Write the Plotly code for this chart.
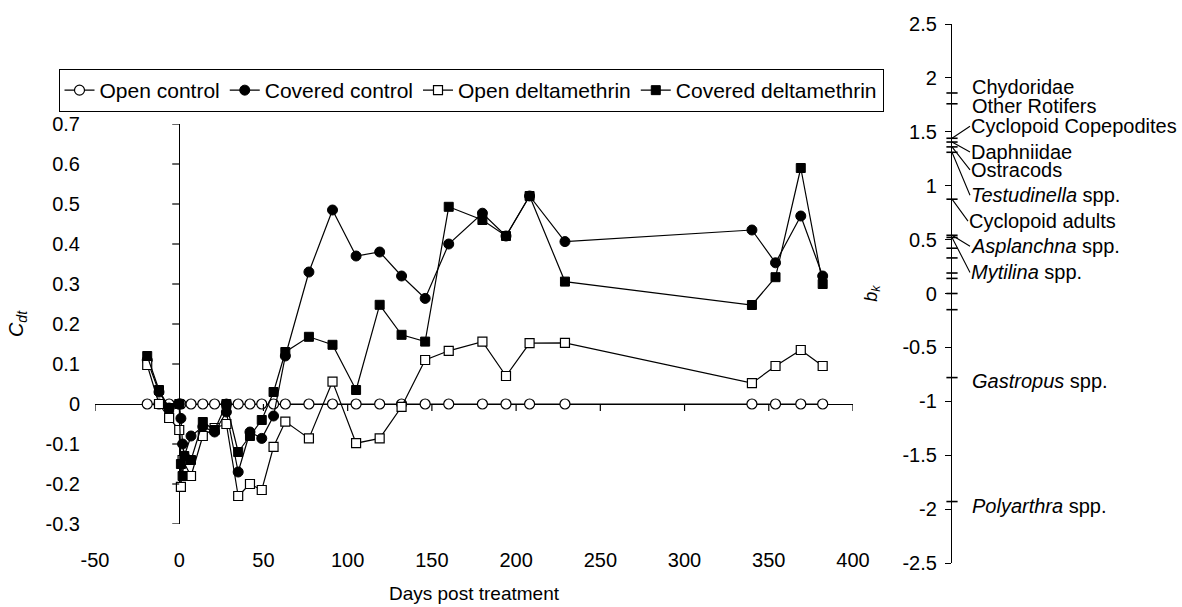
import plotly.graph_objects as go

# ---------------- data ----------------
days_open_control = [-19, -12, -6, 0, 1, 7, 14, 21, 28, 35, 42, 49, 56, 63, 77, 91, 105, 119,
                     132, 146, 160, 180, 194, 208, 229, 340, 354, 369, 382]
open_control = [0.0, 0.0, 0.0, 0.0, 0.0, 0.0, 0.0, 0.0, 0.0, 0.0, 0.0, 0.0, 0.0, 0.0, 0.0, 0.0,
                0.0, 0.0, 0.0, 0.0, 0.0, 0.0, 0.0, 0.0, 0.0, 0.0, 0.0, 0.0, 0.0]

days_covered_control = [-19, -12, -6, 0, 1, 2, 3, 7, 14, 21, 28, 35, 42, 49, 56, 63, 77, 91, 105,
                        119, 132, 146, 160, 180, 194, 208, 229, 340, 354, 369, 382]
covered_control = [0.11, 0.03, -0.01, 0.0, -0.036, -0.10, -0.13, -0.08, -0.057, -0.07, -0.02,
                   -0.17, -0.07, -0.086, -0.03, 0.12, 0.33, 0.485, 0.37, 0.38, 0.32, 0.264, 0.40,
                   0.477, 0.42, 0.52, 0.406, 0.435, 0.353, 0.47, 0.32]

days_open_delta = [-19, -12, -6, 0, 1, 2, 7, 14, 21, 28, 35, 42, 49, 56, 63, 77, 91, 105, 119,
                   132, 146, 160, 180, 194, 208, 229, 340, 354, 369, 382]
open_deltamethrin = [0.0975, 0.0, -0.035, -0.065, -0.207, -0.14, -0.18, -0.08, -0.06, -0.05,
                     -0.23, -0.2, -0.215, -0.107, -0.044, -0.086, 0.056, -0.098, -0.086, -0.007,
                     0.11, 0.133, 0.156, 0.07, 0.152, 0.153, 0.052, 0.095, 0.135, 0.095]

days_covered_delta = [-19, -12, -6, 0, 1, 2, 3, 7, 14, 21, 28, 35, 42, 49, 56, 63, 77, 91, 105,
                      119, 132, 146, 160, 180, 194, 208, 229, 340, 354, 369, 382]
covered_deltamethrin = [0.12, 0.035, -0.01, 0.0, -0.15, -0.18, -0.13, -0.14, -0.045, -0.065, 0.0,
                        -0.12, -0.08, -0.04, 0.03, 0.13, 0.168, 0.148, 0.035, 0.248, 0.173, 0.156,
                        0.493, 0.46, 0.42, 0.52, 0.306, 0.2475, 0.317, 0.59, 0.30]

x_tickvals = [-50, 0, 50, 100, 150, 200, 250, 300, 350, 400]
x_ticktext = ["-50", "0", "50", "100", "150", "200", "250", "300", "350", "400"]
y_tickvals = [-0.3, -0.2, -0.1, 0, 0.1, 0.2, 0.3, 0.4, 0.5, 0.6, 0.7]
y_ticktext = ["-0.3", "-0.2", "-0.1", "0", "0.1", "0.2", "0.3", "0.4", "0.5", "0.6", "0.7"]
bk_tickvals = [-2.5, -2, -1.5, -1, -0.5, 0, 0.5, 1, 1.5, 2, 2.5]
bk_ticktext = ["-2.5", "-2", "-1.5", "-1", "-0.5", "0", "0.5", "1", "1.5", "2", "2.5"]

species_names = ["Chydoridae", "Other Rotifers", "Cyclopoid Copepodites", "Daphniidae",
                 "Ostracods", "<i>Testudinella</i> spp.", "Cyclopoid adults",
                 "<i>Asplanchna</i> spp.", "<i>Mytilina</i> spp.", "<i>Gastropus</i> spp.",
                 "<i>Polyarthra</i> spp."]
species_bk = [1.86, 1.76, 1.44, 1.405, 1.36, 1.31, 0.875, 0.54, 0.52, -0.78, -1.93]
unlabelled_bk = [0.42, 0.33, 0.19, 0.14, 0.0, -0.15]

# ---------------- figure ----------------
FONT = "Liberation Sans, Arial, Helvetica, sans-serif"
W, H = 1182, 607
ML, MR, MT, MB = 95, 2, 24, 44
PW, PH = W - ML - MR, H - MT - MB

def px_x(p):
    return (p - ML) / PW

def px_y(p):
    return (H - MB - p) / PH

fig = go.Figure()
blk = dict(color="black", width=1.2)

fig.add_trace(go.Scatter(x=days_open_control, y=open_control, mode="lines+markers",
                         name="Open control", line=blk, cliponaxis=False,
                         marker=dict(symbol="circle", size=10, color="white",
                                     line=dict(color="black", width=1.2))))
fig.add_trace(go.Scatter(x=days_covered_control, y=covered_control, mode="lines+markers",
                         name="Covered control", line=blk, cliponaxis=False,
                         marker=dict(symbol="circle", size=10, color="black",
                                     line=dict(color="black", width=1))))
fig.add_trace(go.Scatter(x=days_open_delta, y=open_deltamethrin, mode="lines+markers",
                         name="Open deltamethrin", line=blk, cliponaxis=False,
                         marker=dict(symbol="square", size=9, color="white",
                                     line=dict(color="black", width=1.2))))
fig.add_trace(go.Scatter(x=days_covered_delta, y=covered_deltamethrin, mode="lines+markers",
                         name="Covered deltamethrin", line=blk, cliponaxis=False,
                         marker=dict(symbol="square", size=9, color="black",
                                     line=dict(color="black", width=1))))

# b_k marks on the right axis
all_bk = species_bk + unlabelled_bk
fig.add_trace(go.Scatter(x=[0] * len(all_bk), y=all_bk, xaxis="x2", yaxis="y2", mode="markers",
                         showlegend=False, cliponaxis=False,
                         marker=dict(symbol="line-ew", size=8,
                                     line=dict(color="black", width=1.6))))

# ticks on the crossing axes (zero lines)
shapes = []
for v in y_tickvals:
    shapes.append(dict(type="line", xref="x", yref="y", xsizemode="pixel", xanchor=0,
                       x0=-7, x1=0, y0=v, y1=v, line=dict(color="black", width=1.2)))
for v in x_tickvals:
    if v == 0:
        continue
    shapes.append(dict(type="line", xref="x", yref="y", ysizemode="pixel", yanchor=0,
                       y0=-7, y1=0, x0=v, x1=v, line=dict(color="black", width=1.2)))

# species labels
label_style = {
    "Chydoridae": dict(showarrow=False, xshift=19, yshift=6),
    "Other Rotifers": dict(showarrow=False, xshift=19, yshift=-2),
    "Cyclopoid Copepodites": dict(showarrow=True, ax=18, ay=-12),
    "Daphniidae": dict(showarrow=True, ax=18, ay=10),
    "Ostracods": dict(showarrow=True, ax=18, ay=23),
    "<i>Testudinella</i> spp.": dict(showarrow=True, ax=18, ay=43),
    "Cyclopoid adults": dict(showarrow=True, ax=16, ay=22),
    "<i>Asplanchna</i> spp.": dict(showarrow=True, ax=18, ay=11),
    "<i>Mytilina</i> spp.": dict(showarrow=True, ax=18, ay=35),
    "<i>Gastropus</i> spp.": dict(showarrow=False, xshift=19, yshift=-3),
    "<i>Polyarthra</i> spp.": dict(showarrow=False, xshift=19, yshift=-4),
}
annotations = []
for name, bk in zip(species_names, species_bk):
    st = label_style[name]
    a = dict(text=name, x=0, y=bk, xref="x2", yref="y2", xanchor="left",
             font=dict(family=FONT, size=20, color="black"), borderpad=0)
    if st["showarrow"]:
        a.update(showarrow=True, arrowhead=0, arrowwidth=1.1, arrowcolor="black",
                 ax=st["ax"], ay=st["ay"], standoff=0, startstandoff=0)
    else:
        a.update(showarrow=False, xshift=st["xshift"], yshift=st["yshift"])
    annotations.append(a)

fig.update_layout(
    width=W, height=H,
    margin=dict(l=ML, r=MR, t=MT, b=MB, autoexpand=False),
    paper_bgcolor="white", plot_bgcolor="rgba(0,0,0,0)",
    font=dict(family=FONT, size=20, color="black"),
    showlegend=True,
    legend=dict(orientation="h", x=px_x(471), y=px_y(69), xanchor="center", yanchor="top",
                bordercolor="black", borderwidth=1, bgcolor="white",
                font=dict(family=FONT, size=21, color="black"),
                itemwidth=30, tracegroupgap=0),
    xaxis=dict(domain=[0, px_x(853)], range=[-50, 400], tickvals=x_tickvals,
               ticktext=x_ticktext, showgrid=False, showline=False, ticks="",
               zeroline=True, zerolinecolor="black", zerolinewidth=1.2,
               ticklabelstandoff=22, automargin=False,
               tickfont=dict(family=FONT, size=20),
               title=dict(text="Days post treatment", font=dict(family=FONT, size=19),
                          standoff=16)),
    yaxis=dict(domain=[px_y(524), px_y(124)], range=[-0.3, 0.7], tickvals=y_tickvals,
               ticktext=y_ticktext, showgrid=False, showline=False, ticks="",
               zeroline=True, zerolinecolor="black", zerolinewidth=1.2,
               ticklabelstandoff=14, automargin=False,
               tickfont=dict(family=FONT, size=20),
               title=dict(text="<i>C<sub>dt</sub></i>", font=dict(family=FONT, size=20),
                          standoff=16)),
    xaxis2=dict(domain=[px_x(952), 1], range=[0, 1], visible=False, anchor="y2"),
    yaxis2=dict(domain=[0, 1], anchor="x2", side="left", range=[-2.5, 2.5],
                tickvals=bk_tickvals, ticktext=bk_ticktext, showgrid=False,
                showline=True, linecolor="black", linewidth=1.2, zeroline=False,
                ticks="outside", ticklen=6, tickcolor="black", tickwidth=1,
                ticklabelstandoff=4,
                automargin=False, tickfont=dict(family=FONT, size=20),
                title=dict(text="<i>b<sub>k</sub></i>", font=dict(family=FONT, size=18),
                           standoff=20)),
    shapes=shapes,
    annotations=annotations,
)

fig.write_html("out.html", config={"displayModeBar": False},
               post_script="document.body.style.margin='0px';document.body.style.overflow='hidden';")
